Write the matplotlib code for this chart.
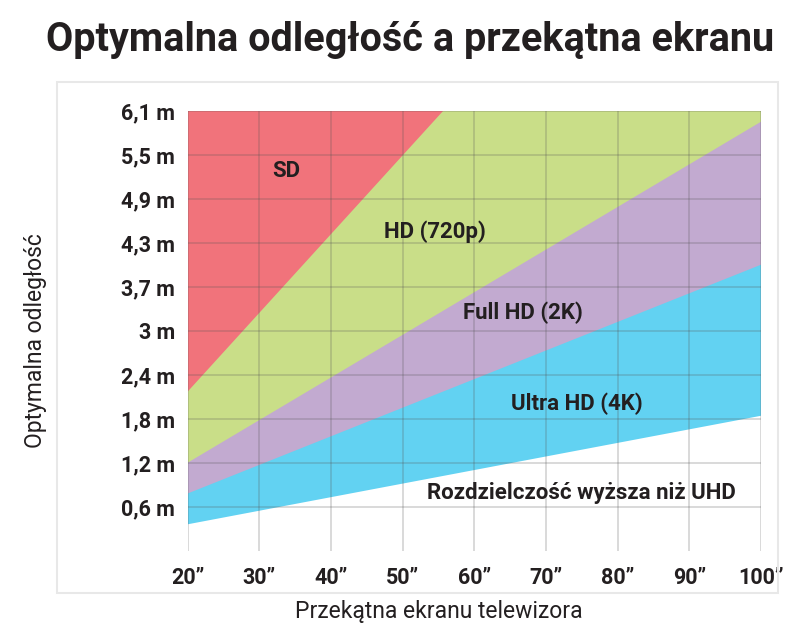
import matplotlib
matplotlib.use("Agg")
import matplotlib.pyplot as plt
from matplotlib.patches import Rectangle

# Data (distance values expressed in tick units where tick k*0.6 is the k-th label)
sizes = [20, 100]
sd_limit = [2.17, 10.76]
hd_limit = [1.20, 5.85]
fhd_limit = [0.78, 3.90]
uhd_limit = [0.36, 1.84]

x_ticks = [20, 30, 40, 50, 60, 70, 80, 90, 100]
x_labels = ['20”', '30”', '40”', '50”', '60”', '70”', '80”', '90”', '100”']
y_ticks = [0.6, 1.2, 1.8, 2.4, 3.0, 3.6, 4.2, 4.8, 5.4, 6.0]
y_labels = ['0,6 m', '1,2 m', '1,8 m', '2,4 m', '3 m', '3,7 m', '4,3 m', '4,9 m', '5,5 m', '6,1 m']

c_red = '#f1737b'
c_green = '#c9de88'
c_purple = '#c2aad0'
c_blue = '#62d2f2'
c_text = '#231f20'

plt.rcParams['font.family'] = ['Roboto', 'DejaVu Sans']

fig = plt.figure(figsize=(8, 6.34), dpi=100)
fig.patch.set_facecolor('white')

# outer light box
fig.add_artist(Rectangle((0.071, 0.065), 0.9015, 0.806, transform=fig.transFigure,
                         fill=False, edgecolor='#e8e8e8', lw=1.5))

ax = fig.add_axes([0.2346, 0.1314, 0.7167, 0.694])
top = [100, 100]
ax.fill_between(sizes, uhd_limit, top, color=c_blue, lw=0, zorder=1)
ax.fill_between(sizes, fhd_limit, top, color=c_purple, lw=0, zorder=1.1)
ax.fill_between(sizes, hd_limit, top, color=c_green, lw=0, zorder=1.2)
ax.fill_between(sizes, sd_limit, top, color=c_red, lw=0, zorder=1.3)

ax.set_xlim(20, 100)
ax.set_ylim(0, 6.0)
ax.set_xticks(x_ticks)
ax.set_xticklabels(x_labels)
ax.set_yticks(y_ticks)
ax.set_yticklabels(y_labels)
for s in ax.spines.values():
    s.set_visible(False)
ax.tick_params(length=0, labelsize=15.5, colors=c_text)
ax.tick_params(axis='x', pad=12)
ax.tick_params(axis='y', pad=9)
for lab in ax.get_xticklabels() + ax.get_yticklabels():
    lab.set_fontweight('bold')
ax.grid(True, color='#555555', alpha=0.28, lw=1.1, zorder=2)
ax.set_axisbelow(False)

lab_kw = dict(fontsize=16, fontweight='bold', color=c_text, ha='center', va='center', zorder=3)
ax.text(33.8, 5.18, 'SD', **lab_kw)
ax.text(54.5, 4.35, 'HD (720p)', **lab_kw)
ax.text(66.8, 3.25, 'Full HD (2K)', **lab_kw)
ax.text(74.3, 2.01, 'Ultra HD (4K)', **lab_kw)
ax.text(75.0, 0.79, 'Rozdzielczość wyższa niż UHD', **lab_kw)

fig.text(0.044, 0.462, 'Optymalna odległość', rotation=90, ha='center', va='center',
         fontsize=16.5, color=c_text)
fig.text(0.549, 0.036, 'Przekątna ekranu telewizora', ha='center', va='center',
         fontsize=16.5, color=c_text)
fig.text(0.512, 0.937, 'Optymalna odległość a przekątna ekranu', ha='center', va='center',
         fontsize=28.5, fontweight='bold', color=c_text)

fig.savefig('out.png', dpi=100, facecolor='white')
